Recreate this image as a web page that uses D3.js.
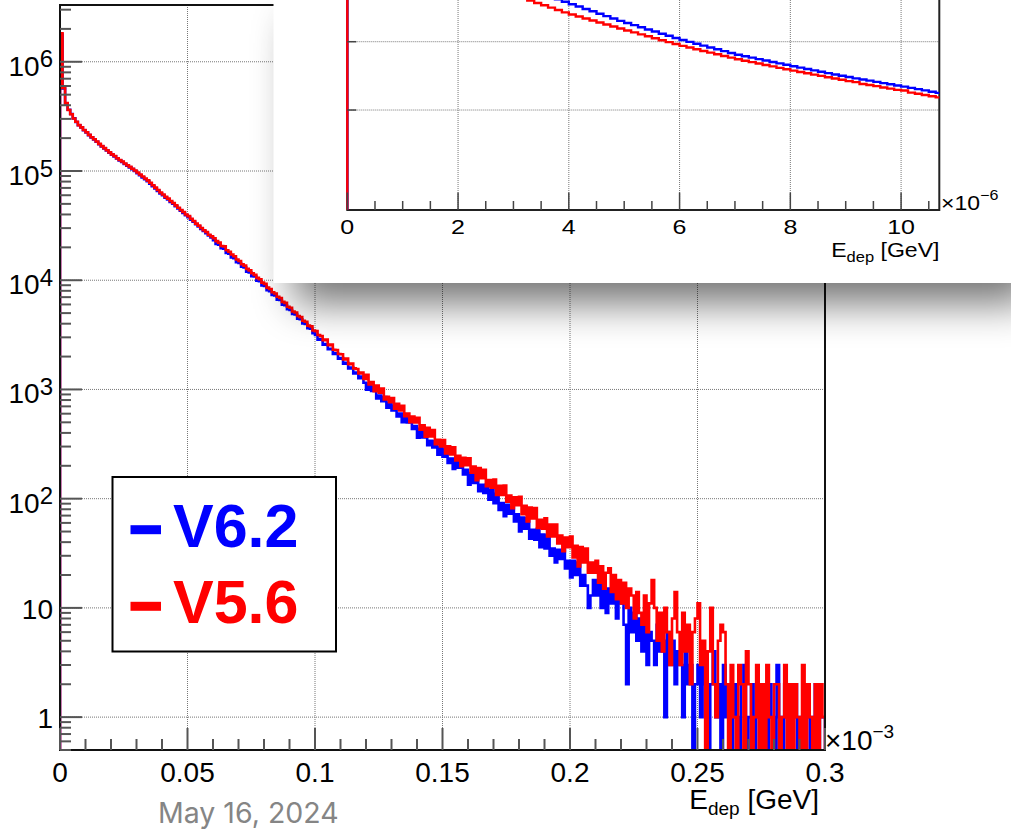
<!DOCTYPE html>
<html>
<head>
<meta charset="utf-8">
<script src="https://cdn.jsdelivr.net/npm/d3@7"></script>
<style>
  body { margin: 0; background: #fff; }
  svg { display: block; }
  text { font-family: "Liberation Sans", Arial, Helvetica, sans-serif; }
</style>
</head>
<body>
<div id="chart"></div>
<script>
// Energy deposit spectrum, V6.2 vs V5.6 (main: x10^-3 GeV, inset: x10^-6 GeV)

const binWidth = 0.001;        // x10^-3 GeV, 300 bins
const countsV62 = [
  1780000, 570000, 415000, 364000, 333000, 303000, 281000, 262000, 250000, 236000,
  225000, 213000, 203000, 194000, 185000, 176000, 168000, 161000, 154000, 147000,
  141000, 136000, 130000, 125000, 121000, 116000, 112000, 108000, 104000, 100000,
  95300, 91300, 87400, 84000, 80500, 76600, 72700, 69200, 65800, 62400,
  59900, 57000, 54800, 52100, 50100, 47600, 45300, 43200, 41300, 39300,
  37800, 35800, 34300, 32500, 31000, 29500, 28200, 27000, 25700, 24700,
  23200, 21500, 21100, 19600, 19400, 17800, 17500, 16200, 15900, 14600,
  14400, 13300, 13100, 12000, 11800, 10900, 10800, 9900, 9800, 8950,
  8850, 8100, 7950, 7330, 7250, 6650, 6600, 5980, 5900, 5430,
  5340, 4920, 4850, 4440, 4390, 4030, 3980, 3630, 3600, 3280,
  3160, 2860, 2880, 2570, 2610, 2340, 2360, 2110, 2140, 1910,
  1940, 1720, 1750, 1560, 1590, 1400, 1430, 1270, 1310, 1150,
  997, 1130, 967, 1057, 828, 877, 779, 851, 681, 753,
  641, 708, 567, 603, 502, 566, 498, 533, 435, 462,
  361, 436, 363, 414, 309, 338, 294, 335, 253, 294,
  242, 281, 212, 233, 187, 224, 192, 214, 167, 184,
  134, 172, 139, 166, 117, 134, 113, 135, 98, 119,
  91, 111, 79, 91, 69, 88, 73, 84, 62, 72,
  50, 67, 53, 66, 43, 52, 42, 53, 36, 47,
  35, 46, 30, 35, 26, 34, 28, 34, 23, 27,
  19, 27, 20, 26, 16, 20, 16, 10, 13, 18,
  13, 18, 10, 16, 9, 15, 11, 14, 8, 13,
  11, 7, 2, 10, 6, 9, 5, 8, 4, 7,
  3, 6, 5, 3, 7, 4, 5, 1, 6, 3,
  5, 2, 4, 3, 1, 4, 2, 3, 0, 2,
  3, 1, 3, 2, 0, 2, 4, 1, 2, 0,
  3, 1, 2, 0, 2, 1, 0, 2, 3, 0,
  1, 2, 0, 1, 2, 0, 1, 0, 2, 1,
  0, 3, 1, 0, 2, 1, 0, 1, 2, 0,
  1, 0, 2, 1, 0, 1, 2, 0, 1, 1
];
const countsV56 = [
  1820000, 575000, 418000, 362000, 331000, 302000, 282000, 263000, 251000, 237000,
  226000, 214000, 204000, 195000, 186000, 177000, 169000, 162000, 155000, 148000,
  142000, 137000, 131000, 126000, 122000, 117000, 113000, 109000, 105000, 101000,
  97000, 93000, 89000, 85500, 82000, 78000, 74000, 70500, 67000, 63500,
  61000, 58000, 55800, 53200, 51000, 48500, 46100, 44000, 42100, 40000,
  38600, 36500, 34900, 33000, 31600, 30100, 28700, 27600, 26100, 25200,
  24200, 22800, 22100, 20600, 20400, 18800, 18200, 17200, 16600, 15500,
  15000, 14000, 13600, 12700, 12300, 11600, 11200, 10500, 10200, 9500,
  9250, 8550, 8300, 7750, 7550, 7050, 6880, 6330, 6200, 5720,
  5600, 5180, 5070, 4700, 4590, 4260, 4170, 3840, 3780, 3470,
  3420, 3150, 3080, 2820, 2860, 2540, 2570, 2310, 2290, 2110,
  2100, 1880, 1920, 1700, 1730, 1560, 1540, 1400, 1430, 1250,
  1361, 1109, 1167, 965, 1086, 934, 1020, 809, 857, 763,
  834, 668, 737, 643, 710, 568, 602, 502, 566, 499,
  550, 428, 469, 369, 446, 371, 425, 316, 346, 300,
  344, 260, 301, 254, 296, 224, 247, 198, 237, 203,
  234, 173, 197, 148, 191, 154, 184, 130, 148, 126,
  150, 108, 131, 108, 132, 94, 107, 82, 103, 87,
  104, 72, 86, 62, 83, 66, 82, 54, 64, 53,
  66, 45, 58, 45, 58, 39, 46, 33, 44, 36,
  45, 29, 37, 24, 36, 26, 35, 21, 26, 21,
  27, 17, 24, 15, 21, 23, 14, 20, 12, 18,
  11, 17, 10, 15, 13, 8, 14, 9, 7, 13,
  6, 11, 18, 10, 5, 9, 4, 10, 6, 3,
  8, 14, 6, 3, 9, 4, 7, 2, 6, 8,
  11, 3, 5, 0, 4, 10, 2, 1, 5, 7,
  6, 2, 0, 3, 1, 0, 3, 2, 0, 4,
  2, 0, 1, 3, 0, 2, 0, 3, 1, 0,
  2, 2, 0, 1, 3, 0, 2, 0, 2, 1,
  0, 3, 0, 2, 1, 0, 2, 0, 2, 1
];

const insetBinWidth = 0.125;   // x10^-6 GeV
const insetV62 = [
  595000, 544000, 498000, 456000, 417000, 382000, 349000, 320000, 292000, 268000,
  245000, 224000, 205000, 188000, 172000, 158000, 144000, 132000, 121000, 110000,
  101000, 92500, 84600, 77400, 70800, 65200, 59400, 54300, 49700, 45500,
  41800, 38500, 35400, 32700, 30200, 27900, 25700, 23700, 21900, 20200,
  18800, 17500, 16300, 15100, 14100, 13100, 12200, 11350, 10600, 9960,
  9350, 8780, 8240, 7740, 7270, 6820, 6450, 6140, 5850, 5570,
  5310, 5060, 4820, 4590, 4380, 4180, 3990, 3810, 3640, 3470,
  3320, 3170, 3040, 2910, 2800, 2690, 2580, 2480, 2380, 2290,
  2200, 2110, 2020, 1940, 1850, 1780
];
const insetV56 = [
  443000, 404000, 368000, 335000, 306000, 279000, 254000, 232000, 211000, 192000,
  175000, 160000, 146000, 133000, 121000, 110000, 100000, 91500, 83600, 76000,
  69400, 63300, 57700, 52600, 47900, 43700, 40000, 36900, 34100, 31500,
  29100, 26900, 25000, 23400, 21900, 20400, 19100, 17900, 16700, 15600,
  14600, 13700, 12800, 12000, 11250, 10500, 9860, 9250, 8690, 8220,
  7760, 7330, 6920, 6540, 6180, 5840, 5530, 5270, 5020, 4790,
  4560, 4350, 4140, 3950, 3770, 3610, 3450, 3300, 3160, 3020,
  2890, 2770, 2650, 2560, 2410, 2330, 2240, 2140, 2060, 1970,
  1930, 1800, 1730, 1660, 1590, 1530
];

const xTickValues = [0, 0.05, 0.1, 0.15, 0.2, 0.25, 0.3];
const xTickLabels = ["0", "0.05", "0.1", "0.15", "0.2", "0.25", "0.3"];
const yDecades = [0, 1, 2, 3, 4, 5, 6];
const insetXTicks = [0, 2, 4, 6, 8, 10];
const insetYTicks = [1e3, 1e4];
const legendLabels = ["V6.2", "V5.6"];
const seriesColors = ["#0000ff", "#ff0000"];
const dateLabel = "May 16, 2024";

// Step outline of a histogram, zero bins drop to the floor (log axis)
function histPath(values, w, x, y, floor) {
    let d = "";
    values.forEach((v, i) => {
        const yy = v > 0 ? y(v) : floor;
        d += i === 0 ? `M${x(0)},${floor}V${yy}` : `V${yy}`;
        d += `H${x((i + 1) * w)}`;
    });
    return d + `V${floor}`;
}

function createChart() {
    const width = 1011, height = 830;
    const frame = { left: 60, right: 825, top: 5, bottom: 750 };

    const svg = d3.select("#chart")
        .append("svg")
        .attr("width", width)
        .attr("height", height);

    const defs = svg.append("defs");
    defs.append("clipPath").attr("id", "mainClip")
        .append("rect")
        .attr("x", frame.left).attr("y", frame.top)
        .attr("width", frame.right - frame.left).attr("height", frame.bottom - frame.top);

    // Scales
    const x = d3.scaleLinear().domain([0, 0.3]).range([frame.left, frame.right]);
    const y = d3.scaleLog().domain([0.5, 3.31e6]).range([frame.bottom, frame.top]);

    // Grid
    const grid = svg.append("g")
        .attr("stroke", "#777")
        .attr("stroke-width", 1)
        .attr("stroke-dasharray", "1,1");
    grid.selectAll(".vgrid")
        .data(xTickValues.slice(1, -1))
        .enter().append("line")
        .attr("x1", d => x(d)).attr("x2", d => x(d))
        .attr("y1", frame.top).attr("y2", frame.bottom);
    grid.selectAll(".hgrid")
        .data(yDecades)
        .enter().append("line")
        .attr("x1", frame.left).attr("x2", frame.right)
        .attr("y1", d => y(Math.pow(10, d))).attr("y2", d => y(Math.pow(10, d)));

    // Histograms: V6.2 first, V5.6 on top
    const hists = svg.append("g").attr("clip-path", "url(#mainClip)");
    [countsV62, countsV56].forEach((vals, i) => {
        hists.append("path")
            .attr("d", histPath(vals, binWidth, x, y, frame.bottom))
            .attr("fill", "none")
            .attr("stroke", seriesColors[i])
            .attr("stroke-width", 2.6);
    });

    // Frame and axes
    const axes = svg.append("g");
    axes.append("path")
        .attr("d", `M${frame.left},${frame.bottom}V${frame.top}H${frame.right}V${frame.bottom}Z`)
        .attr("fill", "none")
        .attr("stroke", "#111")
        .attr("stroke-width", 2);

    // x ticks
    const xMinor = d3.range(0, 31).map(d => d / 100);
    axes.selectAll(".xtick")
        .data(xMinor)
        .enter().append("line")
        .attr("x1", d => x(d)).attr("x2", d => x(d))
        .attr("y1", frame.bottom)
        .attr("y2", (d, i) => frame.bottom - (i % 5 === 0 ? 22 : 11))
        .attr("stroke", "#555")
        .attr("stroke-width", 2);

    // y ticks
    const yMinor = [];
    for (let p = -1; p <= 6; p++) {
        for (let m = 1; m <= 9; m++) {
            const v = m * Math.pow(10, p);
            if (v >= 0.5 && v <= 3.31e6) yMinor.push({ v, major: m === 1 });
        }
    }
    axes.selectAll(".ytick")
        .data(yMinor)
        .enter().append("line")
        .attr("x1", frame.left)
        .attr("x2", d => frame.left + (d.major ? 22 : 11))
        .attr("y1", d => y(d.v)).attr("y2", d => y(d.v))
        .attr("stroke", "#555")
        .attr("stroke-width", 2);

    // Tick labels
    axes.selectAll(".xlabel")
        .data(xTickValues)
        .enter().append("text")
        .attr("x", d => x(d))
        .attr("y", 782)
        .attr("text-anchor", "middle")
        .style("font-size", "28px")
        .text((d, i) => xTickLabels[i]);

    yDecades.forEach(p => {
        const t = axes.append("text")
            .attr("x", 53)
            .attr("text-anchor", "end")
            .style("font-size", "28px");
        if (p === 0) {
            t.attr("y", y(1) + 11).text("1");
        } else if (p === 1) {
            t.attr("y", y(10) + 11).text("10");
        } else {
            t.attr("y", y(Math.pow(10, p)) + 14);
            t.append("tspan").text("10");
            t.append("tspan").attr("dy", -8.5).style("font-size", "24px").text(p);
        }
    });

    const expo = axes.append("text")
        .attr("x", 825).attr("y", 750)
        .style("font-size", "28px");
    expo.append("tspan").text("\u00d710");
    expo.append("tspan").attr("dy", -12).style("font-size", "19px").text("\u22123");

    const xTitle = axes.append("text")
        .attr("x", 819).attr("y", 809)
        .attr("text-anchor", "end")
        .style("font-size", "28px");
    xTitle.append("tspan").text("E");
    xTitle.append("tspan").attr("dy", 6).style("font-size", "19px").text("dep");
    xTitle.append("tspan").attr("dy", -6).text(" [GeV]");

    // Legend
    const legend = svg.append("g");
    legend.append("rect")
        .attr("x", 112.5).attr("y", 477)
        .attr("width", 223.5).attr("height", 174.5)
        .attr("fill", "#fff")
        .attr("stroke", "#000")
        .attr("stroke-width", 2);
    legendLabels.forEach((lab, i) => {
        const base = 546.7 + i * 76.6;
        legend.append("line")
            .attr("x1", 130.5).attr("x2", 161)
            .attr("y1", base - 17).attr("y2", base - 17)
            .attr("stroke", seriesColors[i])
            .attr("stroke-width", 9);
        legend.append("text")
            .attr("x", 173).attr("y", base)
            .attr("fill", seriesColors[i])
            .style("font-size", "61px")
            .style("font-weight", "bold")
            .text(lab);
    });

    // Inset (pasted zoom of the first bins)
    const ins = { left: 347.3, right: 939.3, top: 0, bottom: 210 };
    const filter = defs.append("filter")
        .attr("id", "shadow")
        .attr("filterUnits", "userSpaceOnUse")
        .attr("x", 150).attr("y", -100).attr("width", 1000).attr("height", 520);
    filter.append("feGaussianBlur").attr("stdDeviation", 20);
    defs.append("clipPath").attr("id", "insetClip")
        .append("rect")
        .attr("x", ins.left - 1.5).attr("y", -10)
        .attr("width", ins.right - ins.left + 1.5).attr("height", ins.bottom + 10);

    const inset = svg.append("g");
    inset.append("rect")
        .attr("x", 294).attr("y", 20)
        .attr("width", 737).attr("height", 283)
        .attr("fill", "#000")
        .attr("opacity", 0.55)
        .attr("filter", "url(#shadow)");
    inset.append("rect")
        .attr("x", 273.5).attr("y", -10)
        .attr("width", 760).attr("height", 293)
        .attr("fill", "#fff");

    const xi = d3.scaleLinear().domain([0, 10.69]).range([ins.left, ins.right]);
    const yi = d3.scaleLog().domain([34.4, 40800]).range([ins.bottom, ins.top]);

    const igrid = inset.append("g")
        .attr("stroke", "#777")
        .attr("stroke-width", 1)
        .attr("stroke-dasharray", "1,1");
    igrid.selectAll(".ivgrid")
        .data(insetXTicks.slice(1))
        .enter().append("line")
        .attr("x1", d => xi(d)).attr("x2", d => xi(d))
        .attr("y1", ins.top).attr("y2", ins.bottom);
    igrid.selectAll(".ihgrid")
        .data(insetYTicks)
        .enter().append("line")
        .attr("x1", ins.left).attr("x2", ins.right)
        .attr("y1", d => yi(d)).attr("y2", d => yi(d));

    inset.append("path")
        .attr("d", `M${ins.left},${ins.top}V${ins.bottom}H${ins.right}V${ins.top}`)
        .attr("fill", "none")
        .attr("stroke", "#222")
        .attr("stroke-width", 2);

    const ihists = inset.append("g").attr("clip-path", "url(#insetClip)");
    [insetV62, insetV56].forEach((vals, i) => {
        ihists.append("path")
            .attr("d", histPath(vals, insetBinWidth, xi, yi, ins.bottom))
            .attr("fill", "none")
            .attr("stroke", seriesColors[i])
            .attr("stroke-width", 2.4);
    });

    const iMinor = d3.range(0, 22).map(d => d / 2);
    inset.selectAll(".ixtick")
        .data(iMinor)
        .enter().append("line")
        .attr("x1", d => xi(d)).attr("x2", d => xi(d))
        .attr("y1", ins.bottom)
        .attr("y2", (d, i) => ins.bottom - (i % 4 === 0 ? 17.5 : 9))
        .attr("stroke", "#444")
        .attr("stroke-width", 1.5);
    inset.selectAll(".iytick")
        .data(insetYTicks)
        .enter().append("line")
        .attr("x1", ins.left).attr("x2", ins.left + 9)
        .attr("y1", d => yi(d)).attr("y2", d => yi(d))
        .attr("stroke", "#444")
        .attr("stroke-width", 1.5);

    inset.selectAll(".ixlabel")
        .data(insetXTicks)
        .enter().append("text")
        .attr("transform", d => `translate(${xi(d)},233.5) scale(1.25,1)`)
        .attr("text-anchor", "middle")
        .style("font-size", "20px")
        .text(d => d);

    const iexpo = inset.append("text")
        .attr("transform", "translate(941,210) scale(1.15,1)")
        .style("font-size", "20px");
    iexpo.append("tspan").text("\u00d710");
    iexpo.append("tspan").attr("dy", -10).style("font-size", "14px").text("\u22126");

    const iTitle = inset.append("text")
        .attr("transform", "translate(939.5,256.5) scale(1.1,1)")
        .attr("text-anchor", "end")
        .style("font-size", "21px");
    iTitle.append("tspan").text("E");
    iTitle.append("tspan").attr("dy", 5).style("font-size", "15px").text("dep");
    iTitle.append("tspan").attr("dy", -5).text(" [GeV]");

    // Date stamp
    svg.append("text")
        .attr("x", 158).attr("y", 823)
        .attr("fill", "#858585")
        .style("font-family", "Inter, 'Open Sans', sans-serif")
        .style("font-size", "28.5px")
        .text(dateLabel);
}

createChart();
</script>
</body>
</html>
